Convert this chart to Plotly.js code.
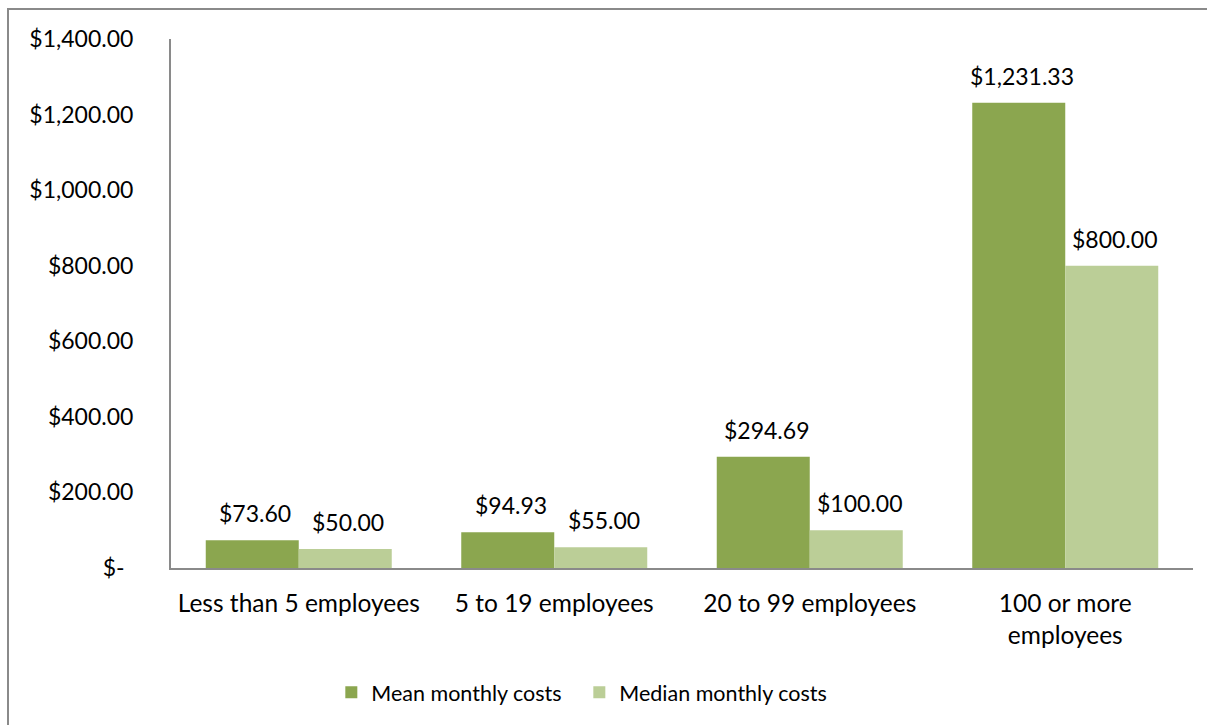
<!DOCTYPE html>
<html>
<head>
<meta charset="utf-8">
<script src="https://cdn.plot.ly/plotly-3.0.1.min.js"></script>
<style>
  html, body { margin: 0; padding: 0; background: #fff; overflow: hidden; }
  #chart { position: absolute; left: 0; top: 0; width: 1207px; height: 725px; }
  #frame { position: absolute; left: 7px; top: 8px; width: 1400px; height: 900px;
           border: 2px solid #8a8a8a; pointer-events: none; box-sizing: border-box; }
</style>
</head>
<body>
<div id="chart"></div>
<div id="frame"></div>
<script>
const categories = ['Less than 5 employees', '5 to 19 employees', '20 to 99 employees', '100 or more<br>employees'];
const meanCosts = [73.60, 94.93, 294.69, 1231.33];
const medianCosts = [50.00, 55.00, 100.00, 800.00];
const yTickVals = [0, 200, 400, 600, 800, 1000, 1200, 1400];
const yTickText = ['$-\u00a0\u2009', '$200.00', '$400.00', '$600.00', '$800.00', '$1,000.00', '$1,200.00', '$1,400.00'];
const seriesNames = ['Mean monthly costs', 'Median monthly costs'];

const fmt = v => '$' + v.toLocaleString('en-US', {minimumFractionDigits: 2, maximumFractionDigits: 2});
const FONT = 'Lato, "Open Sans", sans-serif';
const darkGreen = '#8ba64f';
const lightGreen = '#bbce97';

const traces = [
  {type: 'bar', name: seriesNames[0], x: categories, y: meanCosts, marker: {color: darkGreen}, hoverinfo: 'none'},
  {type: 'bar', name: seriesNames[1], x: categories, y: medianCosts, marker: {color: lightGreen}, hoverinfo: 'none'}
];

const annotations = [];
categories.forEach((c, i) => {
  annotations.push({x: c, y: meanCosts[i], text: fmt(meanCosts[i]), showarrow: false,
    xshift: -43.5, yshift: 27, yanchor: 'middle', font: {family: FONT, size: 23, color: '#000'}});
  annotations.push({x: c, y: medianCosts[i], text: fmt(medianCosts[i]), showarrow: false,
    xshift: 49.5, yshift: 27, yanchor: 'middle', font: {family: FONT, size: 23, color: '#000'}});
});

const layout = {
  width: 1207, height: 725,
  margin: {l: 171, r: 14, t: 39, b: 157, pad: 0},
  paper_bgcolor: '#fff', plot_bgcolor: '#fff',
  font: {family: FONT, size: 23, color: '#000'},
  barmode: 'group', bargap: 0.272, bargroupgap: 0,
  showlegend: true,
  legend: {orientation: 'h', xref: 'container', yref: 'container', x: 0.2745, y: 0.045,
           xanchor: 'left', yanchor: 'middle', font: {family: FONT, size: 21.5, color: '#000'},
           entrywidth: 203, entrywidthmode: 'pixels',
           itemclick: false, traceorder: 'normal'},
  xaxis: {type: 'category', showline: true, linecolor: '#8a8a8a', linewidth: 2,
          showgrid: false, zeroline: false, ticks: '', ticklabelstandoff: 13,
          tickfont: {family: FONT, size: 24.5, color: '#000'}},
  yaxis: {range: [0, 1400], tickvals: yTickVals, ticktext: yTickText, showline: true,
          linecolor: '#8a8a8a', linewidth: 2, showgrid: false, zeroline: false, ticks: '',
          ticklabelstandoff: 31, tickfont: {family: FONT, size: 23, color: '#000'}},
  annotations: annotations
};

Plotly.newPlot('chart', traces, layout, {displayModeBar: false, staticPlot: true});
</script>
</body>
</html>
